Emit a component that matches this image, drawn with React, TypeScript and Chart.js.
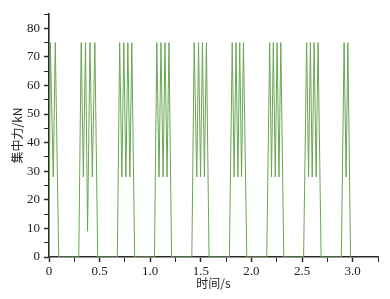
import React, { useEffect, useRef } from 'react';
import { Chart, registerables } from 'chart.js';

Chart.register(...registerables);

// time (s) of each sampled point
const timeS = [
  0, 0.013, 0.042, 0.062, 0.096,
  0.294, 0.318, 0.339, 0.361, 0.381, 0.405, 0.428, 0.453, 0.481,
  0.675, 0.698, 0.720, 0.739, 0.760, 0.779, 0.799, 0.818, 0.846,
  1.042, 1.065, 1.087, 1.106, 1.127, 1.146, 1.166, 1.185, 1.211,
  1.411, 1.434, 1.460, 1.477, 1.497, 1.516, 1.535, 1.555, 1.581,
  1.782, 1.810, 1.829, 1.848, 1.866, 1.884, 1.902, 1.921, 1.954,
  2.151, 2.180, 2.198, 2.216, 2.235, 2.253, 2.272, 2.290, 2.319,
  2.515, 2.545, 2.564, 2.582, 2.600, 2.619, 2.639, 2.658, 2.688,
  2.888, 2.915, 2.935, 2.952, 2.979,
];

// concentrated force (kN) at each time
const forceKN = [
  0, 75, 28, 75, 0,
  0, 75, 28, 75, 9, 75, 28, 75, 0,
  0, 75, 28, 75, 28, 75, 28, 75, 0,
  0, 75, 28, 75, 28, 75, 28, 75, 0,
  0, 75, 28, 75, 28, 75, 28, 75, 0,
  0, 75, 28, 75, 28, 75, 28, 75, 0,
  0, 75, 28, 75, 28, 75, 28, 75, 0,
  0, 75, 28, 75, 28, 75, 28, 75, 0,
  0, 75, 28, 75, 0,
];

const xTickLabels = ['0', '0.5', '1.0', '1.5', '2.0', '2.5', '3.0'];
const yTickLabels = ['0', '10', '20', '30', '40', '50', '60', '70', '80'];

const X_MIN = 0;
const X_MAX = 3.25;
const X_STEP = 0.25;
const Y_MIN = 0;
const Y_MAX = 85;
const Y_STEP = 5;

export default function App() {
  const canvasRef = useRef<HTMLCanvasElement | null>(null);

  useEffect(() => {
    const canvas = canvasRef.current;
    if (!canvas) return;
    const points = timeS.map((t, i) => ({ x: t, y: forceKN[i] }));
    const axisColor = '#2a2a2a';
    const tickFont = { family: 'Liberation Serif', size: 13 };

    const chart = new Chart(canvas, {
      type: 'line',
      data: {
        datasets: [
          {
            data: points,
            borderColor: '#6aa653',
            borderWidth: 1,
            pointRadius: 0,
            tension: 0,
            fill: false,
          },
        ],
      },
      options: {
        animation: false,
        responsive: false,
        devicePixelRatio: 1,
        layout: { padding: { top: 14, right: 12, left: 0, bottom: 0 } },
        plugins: {
          legend: { display: false },
          tooltip: { enabled: false },
        },
        scales: {
          x: {
            type: 'linear',
            min: X_MIN,
            max: X_MAX,
            z: 1,
            border: { display: true, color: axisColor, width: 1.6 },
            grid: {
              display: true,
              drawOnChartArea: false,
              drawTicks: true,
              tickLength: 5,
              tickColor: axisColor,
              tickWidth: (ctx: any) => (Math.abs(ctx.tick.value / 0.5 - Math.round(ctx.tick.value / 0.5)) < 1e-6 ? 1.5 : 1),
            },
            ticks: {
              stepSize: X_STEP,
              autoSkip: false,
              maxRotation: 0,
              padding: 2,
              color: '#222',
              font: tickFont,
              callback: (v: any) => {
                const n = Number(v);
                const k = Math.round(n / 0.5);
                if (Math.abs(n - k * 0.5) > 1e-6) return '';
                return xTickLabels[k] ?? '';
              },
            },
            title: {
              display: true,
              text: '时间/s',
              color: '#222',
              font: { family: 'Noto Sans CJK SC', size: 12 },
              padding: { top: 0, bottom: 8 },
            },
            afterFit: (scale: any) => {
              scale.height = 42;
            },
          },
          y: {
            type: 'linear',
            min: Y_MIN,
            max: Y_MAX,
            z: 1,
            border: { display: true, color: axisColor, width: 1.6 },
            grid: {
              display: true,
              drawOnChartArea: false,
              drawTicks: true,
              tickLength: 5,
              tickColor: axisColor,
              tickWidth: (ctx: any) => (ctx.tick.value % 10 === 0 ? 1.5 : 1),
            },
            ticks: {
              stepSize: Y_STEP,
              autoSkip: false,
              padding: 4,
              color: '#222',
              font: tickFont,
              callback: (v: any) => {
                const n = Number(v);
                const k = Math.round(n / 10);
                if (Math.abs(n - k * 10) > 1e-6) return '';
                return yTickLabels[k] ?? '';
              },
            },
            title: {
              display: true,
              text: '集中力/kN',
              color: '#222',
              font: { family: 'Noto Sans CJK SC', size: 12 },
              padding: { top: 10, bottom: 0 },
            },
            afterFit: (scale: any) => {
              scale.width = 49;
            },
          },
        },
      },
    });

    return () => {
      chart.destroy();
    };
  }, []);

  return (
    <div style={{ position: 'fixed', left: 0, top: 0, width: 390, height: 299, background: '#ffffff' }}>
      <canvas ref={canvasRef} width={390} height={299} style={{ display: 'block', width: 390, height: 299 }} />
    </div>
  );
}
